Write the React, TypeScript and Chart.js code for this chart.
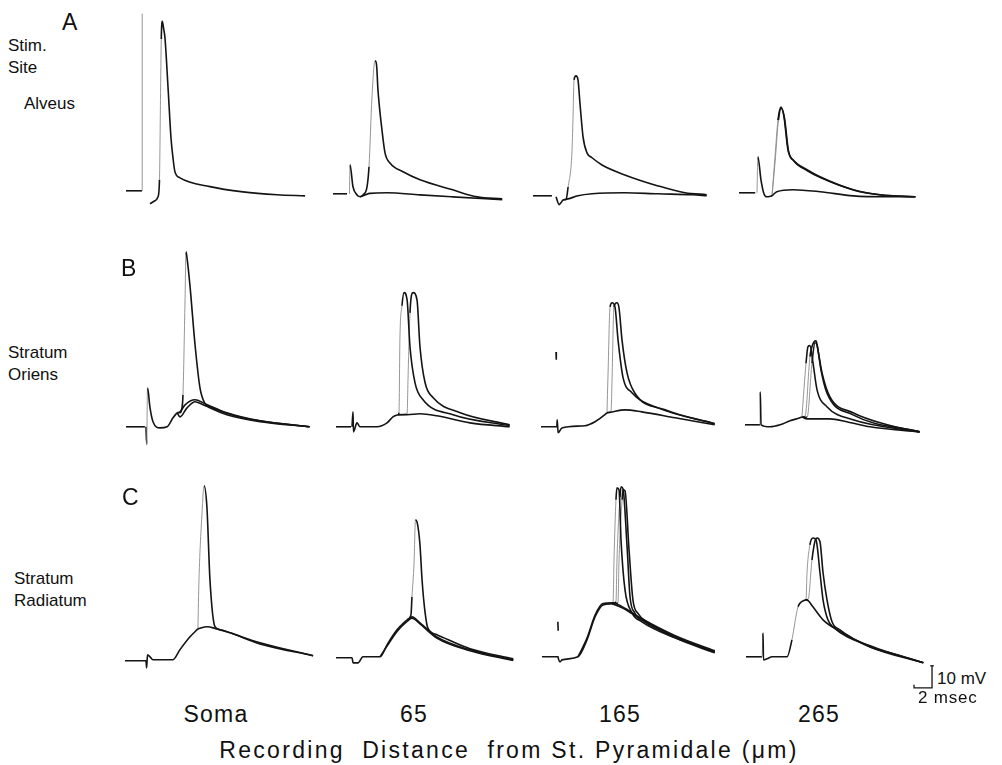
import React, { useEffect, useRef } from "react";
import { Chart, registerables } from "chart.js";

Chart.register(...registerables);

type Pt = [number, number]; // [time (ms), membrane potential (mV, relative to baseline)]

// common axes of every panel
const T_MIN = -1;
const T_MAX = 21;
const V_MIN = -16;
const V_MAX = 84;
const PX_PER_MS = 9;
const PX_PER_MV = 2.2;

// ---------- Row A : stimulation in the alveus ----------
const A_SOMA_STIM: Pt[] = [[0, 0], [1.78, 0], [1.8, 80.5]];
const A_SOMA_SPIKE: Pt[] = [[2.67, -5.9], [3.22, -4.5], [3.56, -2.7], [3.72, 5], [3.83, 41], [3.92, 69], [4.03, 77], [4.17, 74], [4.33, 69.5], [4.67, 47], [5.0, 24], [5.22, 15], [5.44, 8.6], [6.0, 5.9], [9.33, 1.9], [13, -0.5], [16.8, -1.8], [19.9, -2.3]];

const A_65_BASE: Pt[] = [[0, 0], [1.56, 0]];
const A_65_ART: Pt[] = [[1.83, 0], [1.89, 13.2], [2.22, 3.2], [2.67, -0.5], [3.0, -1.4]];
const A_65_SUB: Pt[] = [[3.0, -1.4], [3.56, -0.5], [4.1, 0.2], [6, 0.5], [9.67, -0.5], [13.3, -1.4], [18.8, -2.7]];
const A_65_SPIKE: Pt[] = [[3.0, -1.4], [3.33, -0.5], [3.78, 3.2], [4.0, 12.3], [4.33, 44], [4.67, 60.5], [4.83, 59], [5, 47], [5.44, 29], [5.78, 18.6], [6.33, 14], [7.78, 10], [9.67, 6.4], [13.3, 1.8], [16, -1.4], [18.8, -2.3]];

const A_165_BASE: Pt[] = [[0, 0], [2.1, 0]];
const A_165_ART: Pt[] = [[2.56, -0.5], [2.9, -4], [3.1, -3.2], [3.33, -1.8]];
const A_165_SUB: Pt[] = [[3.33, -1.8], [3.9, -1.4], [5, 0], [6.56, 0.9], [10.2, 1.4], [13.9, 0.9], [17.7, 0.5], [19.3, 0]];
const A_165_SPIKE: Pt[] = [[3.33, -1.8], [3.67, -1.8], [3.9, 4], [4.33, 20], [4.44, 34.5], [4.56, 52.7], [4.78, 54.5], [5, 52.7], [5.22, 42], [5.56, 26.8], [6, 19.5], [6.56, 17.3], [7.67, 14], [10.2, 9.5], [13.9, 4.5], [16.9, 1.4], [19.3, 0.5]];

const A_265_BASE: Pt[] = [[0, 0], [1.8, 0]];
const A_265_ART: Pt[] = [[2.0, 0], [2.1, 16.4], [2.44, 5.9], [2.78, -0.5], [3.1, -1.8], [3.67, -1.4]];
const A_265_SUB: Pt[] = [[3.67, -1.4], [4.2, 0.5], [6, 1.4], [9, 0.5], [12.7, -1.4], [16.4, -1.8], [19.6, -1.8]];
const A_265_SPIKE1: Pt[] = [[3.67, -1.4], [4, 16.4], [4.33, 33], [4.67, 39], [5, 34.5], [5.44, 19.5], [6, 15], [7.56, 10.5], [9, 7.3], [12.7, 1.4], [15.7, -0.9], [19.6, -1.8]];
const A_265_SPIKE2: Pt[] = [[3.67, -1.4], [4.05, 16], [4.38, 33], [4.7, 38.5], [5.05, 34], [5.5, 19], [6.1, 14.5], [7.6, 10], [9.1, 6.8], [12.8, 1.2], [15.8, -1], [19.6, -1.8]];

// ---------- Row B : stimulation in stratum oriens ----------
const B_SOMA_BASE: Pt[] = [[0, 0], [2.1, 0]];
const B_SOMA_ART: Pt[] = [[2.22, 0], [2.3, -8], [2.39, 17.7], [2.67, 8.6], [3, 2.3], [3.78, -0.5], [4.56, 0], [5.22, 4.1], [5.67, 6.4]];
const B_SOMA_SUB1: Pt[] = [[5.67, 6.4], [6, 4.5], [6.78, 8.6], [7.67, 11.4], [8.56, 10], [11.2, 5.5], [14.9, 2.3], [20.4, 0]];
const B_SOMA_SUB2: Pt[] = [[5.67, 6.4], [6, 6.8], [6.56, 10], [7.67, 12.3], [8.78, 10.5], [11.2, 6.4], [14.9, 2.7], [20.4, 0]];
const B_SOMA_SPIKE: Pt[] = [[5.67, 6.4], [6, 6.4], [6.22, 8.6], [6.33, 14.5], [6.56, 57.7], [6.67, 79.5], [6.78, 76.8], [7.1, 64.5], [7.67, 37.3], [8.22, 17.7], [8.78, 10.5], [9.33, 9.1], [13, 4.1], [20.4, 0]];

const B_65_BASE: Pt[] = [[0, 0], [1.67, 0]];
const B_65_ART: Pt[] = [[1.78, 0], [1.89, 6.8], [1.94, -2.3], [2.33, 1.8], [2.67, 0], [4.56, 0], [5.67, 1.8], [6.33, 4.5], [6.9, 5.5]];
const B_65_SUB: Pt[] = [[6.9, 5.5], [7.9, 5.5], [9.33, 5.9], [11.2, 5], [14.9, 1.8], [19.3, 0]];
const B_65_SPIKE1: Pt[] = [[6.9, 5.5], [7.0, 6.4], [7.1, 39.5], [7.33, 55], [7.56, 61], [7.9, 57.7], [8.22, 36.4], [8.78, 20], [9.67, 12.3], [13, 5.5], [19.3, 0.5]];
const B_65_SPIKE2: Pt[] = [[6.9, 5.5], [7.9, 5.7], [8.0, 21.4], [8.22, 51.8], [8.56, 61], [9, 57.7], [9.33, 36.4], [9.9, 20], [10.8, 13.2], [13.8, 6.4], [19.3, 0.9]];

const B_165_ART: Pt[] = [[0, 0], [1.76, 0], [1.8, 3.2], [1.9, -2.7], [2.33, -0.5], [4.9, 0.5], [6, 2.3], [7.1, 5.5], [7.33, 6.4]];
const B_165_TICK: Pt[] = [[1.67, 34], [1.7, 30.5]];
const B_165_SUB: Pt[] = [[7.33, 6.4], [7.67, 6.6], [9.33, 7.7], [11.2, 6.8], [14.9, 4.1], [19.3, 0.9]];
const B_165_SPIKE1: Pt[] = [[7.33, 6.4], [7.44, 22.7], [7.67, 54.5], [7.9, 56.4], [8.22, 54.5], [8.56, 39.5], [9.1, 22.7], [10.1, 15.5], [13, 8.6], [19.3, 1.4]];
const B_165_SPIKE2: Pt[] = [[7.33, 6.4], [7.78, 6.6], [7.9, 22.7], [8.1, 54.5], [8.44, 56.4], [8.67, 54], [9, 39.5], [9.56, 24.5], [10.4, 15.5], [13.8, 7.7], [19.3, 1.4]];

const B_265_ART: Pt[] = [[0, 0], [1.67, 0], [1.7, 15], [1.78, 0], [2.78, -0.9], [3.9, 0], [5, 1.8], [6.1, 3.2], [6.33, 3.6]];
const B_265_SUB: Pt[] = [[6.33, 3.6], [6.9, 2.7], [9.44, 2.7], [11.3, 1.4], [13.9, -0.9], [19.4, -3.2]];
const B_265_SPIKE1: Pt[] = [[6.33, 3.6], [6.78, 28], [7, 35.5], [7.22, 36], [7.56, 28], [8, 16], [9.1, 8.2], [12, 2.3], [19.4, -3.2]];
const B_265_SPIKE2: Pt[] = [[6.33, 3.6], [6.67, 3.8], [7.22, 31], [7.67, 37.7], [7.9, 38.2], [8.1, 34], [8.56, 23.6], [9.44, 12.7], [12, 5.5], [15.8, 0], [19.4, -3.2]];
const B_265_SPIKE3: Pt[] = [[6.33, 3.6], [6.9, 3.4], [7.44, 28], [7.78, 37.3], [8, 36.4], [8.44, 25], [9.1, 14.5], [12, 4.5], [19.4, -3.2]];

// ---------- Row C : stimulation in stratum radiatum ----------
const C_SOMA_ART: Pt[] = [[0, 0], [2.22, 0], [2.33, 0], [2.4, -3.2], [2.5, 2.7], [2.78, 1.8], [3.1, 0.5], [5.33, 0.5], [6.1, 5], [7.22, 10.9], [8.1, 14.5]];
const C_SOMA_SUB: Pt[] = [[8.1, 14.5], [9.1, 15.5], [10.2, 14.5], [11.3, 13.2], [15, 8.2], [20.9, 2.3]];
const C_SOMA_SPIKE: Pt[] = [[8.1, 14.5], [8.22, 36.8], [8.56, 67.3], [8.78, 79.5], [9.1, 70], [9.44, 36.8], [10, 15.5], [10.6, 14.1], [11.7, 12.7], [15, 7.7], [20.9, 2.3]];

const C_65_ART: Pt[] = [[0, 0], [1.78, 0], [1.9, -2.3], [2.44, -2.3], [3, 0.5], [4.9, 0.5], [5.67, 5.9], [6.78, 12.7], [7.9, 17.3]];
const C_65_SUB1: Pt[] = [[7.9, 17.3], [8.44, 18.6], [9.33, 15.9], [11.2, 9.5], [14.9, 3.6], [19.7, -0.9]];
const C_65_SUB2: Pt[] = [[4.9, 0.5], [5.67, 5.3], [6.78, 12], [7.9, 16.5], [8.44, 18], [9.33, 15.4], [11.2, 9], [14.9, 3.2], [19.7, -1.2]];
const C_65_SPIKE: Pt[] = [[7.9, 17.3], [8.33, 19.5], [8.44, 27.7], [8.67, 43], [8.83, 62.7], [9, 61.8], [9.33, 51.4], [9.56, 35.5], [9.9, 20.5], [10.2, 13.6], [11.2, 10.5], [14.9, 4.1], [19.7, -0.5]];

const C_165_ART: Pt[] = [[0, 0], [1.78, 0], [1.8, -0.5], [2, -2.3], [2.22, -1.4], [4, 0], [5, 7.7], [5.9, 18.2], [6.78, 23.6], [7.78, 24.1]];
const C_165_TICK: Pt[] = [[1.76, 15.9], [1.8, 11.8]];
const C_165_SUB1: Pt[] = [[7.78, 24.1], [8.9, 22.3], [11.1, 16.8], [14.8, 9.1], [19.2, 2.3]];
const C_165_SUB2: Pt[] = [[4, 0], [5, 8.5], [5.9, 19], [6.78, 24.2], [7.78, 24.6], [8.9, 22.8], [11.1, 17.3], [14.8, 9.6], [19.2, 2.7]];
const C_165_SPIKE1: Pt[] = [[7.78, 24.1], [7.9, 25], [8, 44], [8.22, 71.4], [8.33, 76.8], [8.56, 75.9], [8.78, 53], [9.22, 30.5], [10, 20], [11.1, 15.9], [14.8, 8.6], [19.2, 2.3]];
const C_165_SPIKE2: Pt[] = [[7.78, 24.1], [8.22, 25], [8.33, 44], [8.67, 72.7], [8.78, 77.3], [9, 76.4], [9.44, 51], [9.78, 27.3], [10.3, 20], [11.4, 15.9], [14.8, 9.1], [19.2, 2.3]];
const C_165_SPIKE3: Pt[] = [[7.78, 24.1], [8.44, 24.5], [8.56, 44], [8.9, 71.4], [9, 75.9], [9.22, 75.5], [9.67, 48.6], [10.1, 26], [10.7, 19.5], [11.8, 15.5], [14.8, 8.6], [19.2, 1.8]];

const C_265_ART: Pt[] = [[0, 0], [1.56, 0], [1.78, 0], [1.89, 10.9], [1.94, -1.4], [2.33, -0.9], [2.9, 0], [4.56, 0], [5.1, 7.7], [5.78, 22.7], [6.56, 25.9]];
const C_265_SUB: Pt[] = [[6.56, 25.9], [6.9, 25.5], [7.44, 22.7], [8.56, 16.8], [10.1, 12.3], [13.8, 4.5], [16.8, 0.9], [19.7, -2.7]];
const C_265_SPIKE1: Pt[] = [[6.56, 25.9], [6.67, 26.2], [6.78, 38.2], [7.1, 50.9], [7.44, 54], [7.78, 53.2], [8.22, 38.2], [8.56, 25.9], [9.1, 16.8], [9.67, 13.6], [13.8, 5], [19.7, -2.7]];
const C_265_SPIKE2: Pt[] = [[6.56, 25.9], [6.9, 26], [7.33, 44], [7.67, 52.7], [7.9, 54], [8.22, 52.3], [8.56, 38.2], [9, 25.9], [9.56, 15.9], [10.4, 12.3], [13.8, 4.5], [19.7, -2.7]];

// calibration bar: 2 msec, 10 mV
const SCALE_MS = 2;
const SCALE_MV = 10;
const SCALE_ORIGIN: Pt = [18.67, -14.1];

// ---------- text ----------
const ROW_LETTERS = ["A", "B", "C"];
const COLUMN_LABELS = ["Soma", "65", "165", "265"];
const X_TITLE = "Recording\u00a0 Distance\u00a0 from St. Pyramidale (\u03bcm)";

// ---------- layout (pixel position of each panel's baseline start) ----------
type Panel = { x0: number; y0: number; traces: Pt[][]; scale?: boolean };
const PANELS: Panel[] = [
  { x0: 126, y0: 191, traces: [A_SOMA_STIM, A_SOMA_SPIKE] },
  { x0: 333, y0: 194, traces: [A_65_BASE, A_65_ART, A_65_SUB, A_65_SPIKE] },
  { x0: 533, y0: 196, traces: [A_165_BASE, A_165_ART, A_165_SUB, A_165_SPIKE] },
  { x0: 739, y0: 193, traces: [A_265_BASE, A_265_ART, A_265_SUB, A_265_SPIKE1, A_265_SPIKE2] },
  { x0: 126, y0: 427, traces: [B_SOMA_BASE, B_SOMA_ART, B_SOMA_SUB1, B_SOMA_SUB2, B_SOMA_SPIKE] },
  { x0: 336, y0: 427, traces: [B_65_BASE, B_65_ART, B_65_SUB, B_65_SPIKE1, B_65_SPIKE2] },
  { x0: 541, y0: 427, traces: [B_165_ART, B_165_TICK, B_165_SUB, B_165_SPIKE1, B_165_SPIKE2] },
  { x0: 745, y0: 425, traces: [B_265_ART, B_265_SUB, B_265_SPIKE1, B_265_SPIKE2, B_265_SPIKE3] },
  { x0: 125, y0: 661, traces: [C_SOMA_ART, C_SOMA_SUB, C_SOMA_SPIKE] },
  { x0: 336, y0: 658, traces: [C_65_ART, C_65_SUB1, C_65_SUB2, C_65_SPIKE] },
  { x0: 542, y0: 657, traces: [C_165_ART, C_165_TICK, C_165_SUB1, C_165_SUB2, C_165_SPIKE1, C_165_SPIKE2, C_165_SPIKE3] },
  { x0: 746, y0: 657, traces: [C_265_ART, C_265_SUB, C_265_SPIKE1, C_265_SPIKE2], scale: true },
];

const FONT = '"Liberation Sans", Arial, Helvetica, sans-serif';
const INK = "#141414";

function PanelChart({ panel }: { panel: Panel }) {
  const ref = useRef<HTMLCanvasElement | null>(null);
  const width = Math.round((T_MAX - T_MIN) * PX_PER_MS);
  const height = Math.round((V_MAX - V_MIN) * PX_PER_MV);
  useEffect(() => {
    if (!ref.current) return;
    // fast rising edges were faint on the original oscilloscope photographs
    const fastRise = (ctx: any) => {
      const dx = Math.abs(ctx.p1.x - ctx.p0.x);
      const rise = ctx.p0.y - ctx.p1.y;
      return rise > 22 && rise > 4 * dx;
    };
    const datasets: any[] = panel.traces.map((tr) => ({
      data: tr.map(([x, y]) => ({ x, y })),
      borderColor: INK,
      borderWidth: 1.6,
      pointRadius: 0,
      fill: false,
      tension: 0,
      cubicInterpolationMode: tr.length > 3 ? "monotone" : "default",
      segment: {
        borderColor: (ctx: any) => (fastRise(ctx) ? "#8a8a8a" : undefined),
        borderWidth: (ctx: any) => (fastRise(ctx) ? 0.9 : undefined),
      },
    }));
    if (panel.scale) {
      const [sx, sy] = SCALE_ORIGIN;
      datasets.push({
        data: [
          { x: sx, y: sy + 1.4 },
          { x: sx, y: sy },
          { x: sx + SCALE_MS, y: sy },
          { x: sx + SCALE_MS, y: sy + SCALE_MV },
        ],
        borderColor: INK,
        borderWidth: 1.3,
        pointRadius: 0,
        tension: 0,
        fill: false,
      });
      datasets.push({
        data: [
          { x: sx + SCALE_MS - 0.2, y: sy + SCALE_MV },
          { x: sx + SCALE_MS + 0.2, y: sy + SCALE_MV },
        ],
        borderColor: INK,
        borderWidth: 1.3,
        pointRadius: 0,
        tension: 0,
        fill: false,
      });
    }
    const chart = new Chart(ref.current, {
      type: "line",
      data: { datasets },
      options: {
        responsive: false,
        maintainAspectRatio: false,
        animation: false,
        devicePixelRatio: 1,
        events: [],
        layout: { padding: 0 },
        parsing: false,
        plugins: { legend: { display: false }, tooltip: { enabled: false } },
        scales: {
          x: { type: "linear", min: T_MIN, max: T_MAX, display: false },
          y: { type: "linear", min: V_MIN, max: V_MAX, display: false },
        },
      } as any,
    });
    return () => chart.destroy();
  }, [panel]);
  return (
    <canvas
      ref={ref}
      width={width}
      height={height}
      style={{
        position: "absolute",
        left: panel.x0 + T_MIN * PX_PER_MS,
        top: Math.round(panel.y0 - V_MAX * PX_PER_MV),
        width,
        height,
      }}
    />
  );
}

function Label({ text, left, cy, size, center, spacing }: { text: string; left: number; cy: number; size: number; center?: boolean; spacing?: number }) {
  return (
    <div
      style={{
        position: "absolute",
        left,
        top: cy - size * 0.49,
        fontFamily: FONT,
        fontSize: size,
        lineHeight: 1,
        whiteSpace: "nowrap",
        color: "#111",
        letterSpacing: spacing ?? 0,
        transform: center ? "translateX(-50%)" : undefined,
      }}
    >
      {text}
    </div>
  );
}

export default function App() {
  useEffect(() => {
    document.body.style.margin = "0";
    document.body.style.background = "#fff";
  }, []);
  const colCenters = [216, 414, 620, 819];
  return (
    <div style={{ position: "absolute", left: 0, top: 0, width: 1002, height: 765, background: "#fff", overflow: "hidden" }}>
      {PANELS.map((p, i) => (
        <PanelChart key={i} panel={p} />
      ))}
      <Label text={ROW_LETTERS[0]} left={62} cy={22} size={23} />
      <Label text={ROW_LETTERS[1]} left={121} cy={268} size={23} />
      <Label text={ROW_LETTERS[2]} left={122} cy={497} size={23} />
      <Label text="Stim." left={8} cy={45} size={17} />
      <Label text="Site" left={8} cy={67} size={17} />
      <Label text="Alveus" left={24} cy={103} size={17} />
      <Label text="Stratum" left={8} cy={352} size={17} />
      <Label text="Oriens" left={8} cy={374} size={17} />
      <Label text="Stratum" left={14} cy={578} size={17} />
      <Label text="Radiatum" left={14} cy={600} size={17} />
      {COLUMN_LABELS.map((c, i) => (
        <Label key={c} text={c} left={colCenters[i]} cy={714} size={23} center spacing={1.2} />
      ))}
      <Label text={X_TITLE} left={509} cy={750} size={23} center spacing={2.3} />
      <Label text="10 mV" left={937} cy={678} size={17} />
      <Label text="2 msec" left={918} cy={697} size={17} spacing={0.8} />
    </div>
  );
}
